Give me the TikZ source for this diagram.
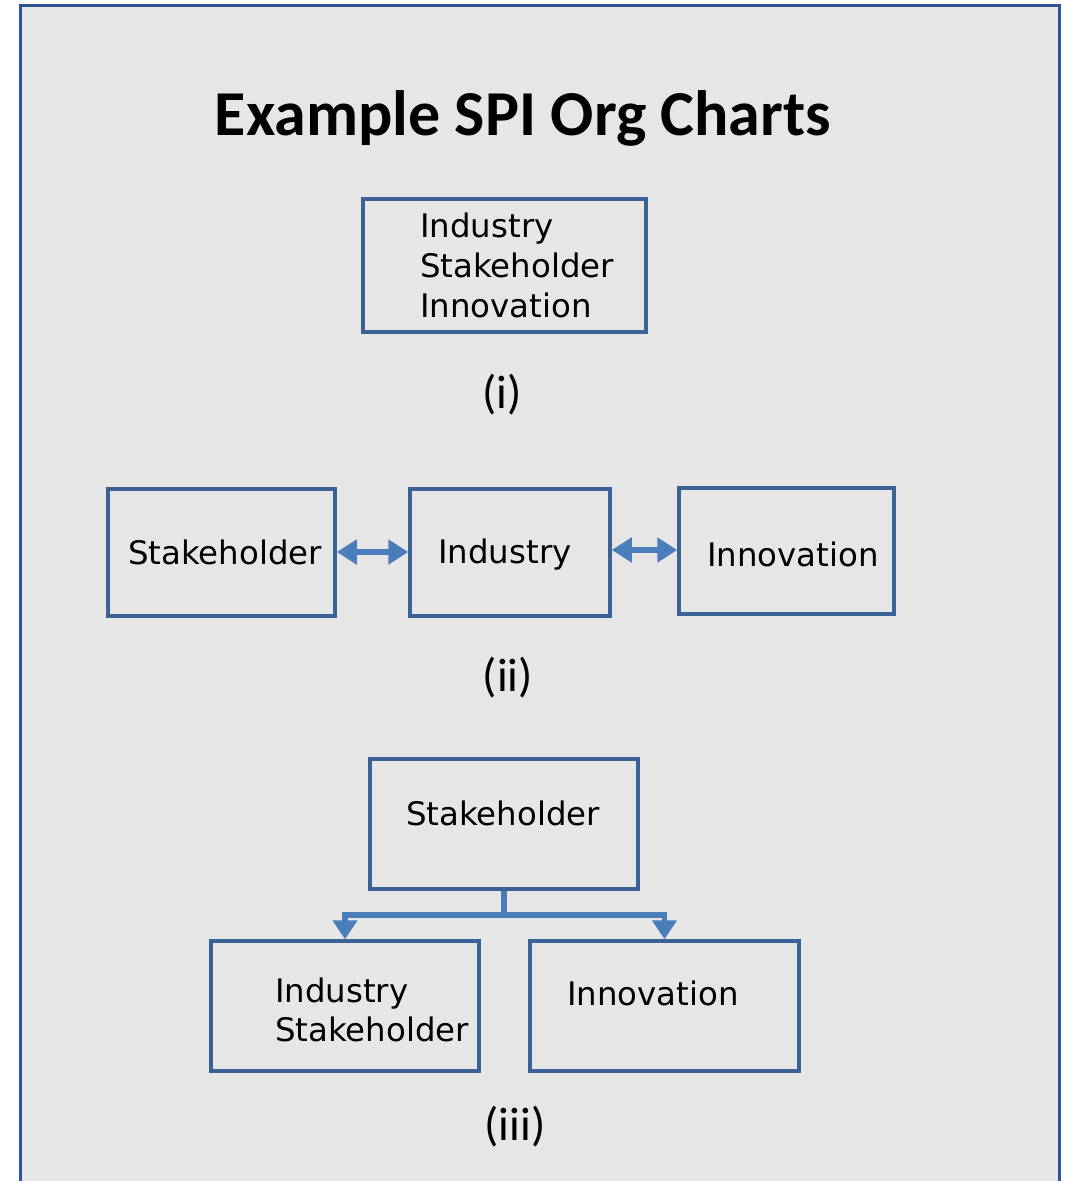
\documentclass[tikz,border=0pt]{standalone}
\usepackage{fontspec}
\setmainfont{DejaVu Sans}
\newfontfamily\calib{Carlito}
\usetikzlibrary{arrows.meta}
\definecolor{bgray}{HTML}{E6E6E6}
\definecolor{frameblue}{HTML}{2F5597}
\definecolor{boxblue}{HTML}{3B6296}
\definecolor{arrblue}{HTML}{4A7EBB}
\begin{document}
\begin{tikzpicture}[x=1pt,y=-1pt,
  box/.style={draw=boxblue,line width=3.5pt,fill=bgray,inner sep=0pt},
  lbl/.style={font=\fontsize{32.4}{40}\selectfont,anchor=base west,inner sep=0pt},
  caplabel/.style={font=\calib\fontsize{47}{55}\selectfont,anchor=base,inner sep=0pt},
  conn/.style={draw=arrblue,line width=5.5pt},
  tipend/.style={-{Triangle[width=24pt,length=19pt]}},
  tipboth/.style={{Triangle[width=24pt,length=20pt]}-{Triangle[width=24pt,length=20pt]}}
]
\useasboundingbox (0,0) rectangle (1071,1181);
\fill[white] (0,0) rectangle (1071,1181);
\draw[draw=frameblue,line width=3pt,fill=bgray] (20,5) rectangle (1059,1200);

\node[font=\calib\bfseries\fontsize{64}{72}\selectfont,anchor=base,inner sep=0pt] (title) at (523,135) {Example SPI Org Charts};

% (i)
\node[box,minimum width=283pt,minimum height=133pt] (b1) at (504.5,265.5) {};
\node[lbl] (t1a) at (420,237) {Industry};
\node[lbl] (t1b) at (420,277) {Stakeholder};
\node[lbl] (t1c) at (420,317) {Innovation};
\node[caplabel] (c1) at (502,408) {(i)};

% (ii)
\node[box,minimum width=227pt,minimum height=127pt] (s2) at (221.5,552.5) {};
\node[box,minimum width=200pt,minimum height=127pt] (i2) at (510,552.5) {};
\node[box,minimum width=215pt,minimum height=126pt] (n2) at (786.5,551) {};
\node[lbl] (ts2) at (128,564) {Stakeholder};
\node[lbl] (ti2) at (438,563) {Industry};
\node[lbl] (tn2) at (707,566) {Innovation};
\draw[conn,tipboth] (s2.east |- 0,552) -- (i2.west |- 0,552);
\draw[conn,tipboth] (i2.east |- 0,550) -- (n2.west |- 0,550);
\node[caplabel] (c2) at (508,691) {(ii)};

% (iii)
\node[box,minimum width=268pt,minimum height=130pt] (s3) at (504,824) {};
\node[box,minimum width=268pt,minimum height=130pt] (is3) at (345,1006) {};
\node[box,minimum width=269pt,minimum height=130pt] (n3) at (664.5,1006) {};
\node[lbl] (ts3) at (406,825) {Stakeholder};
\node[lbl] (ti3a) at (275,1002) {Industry};
\node[lbl] (ti3b) at (275,1041) {Stakeholder};
\node[lbl] (tn3) at (567,1005) {Innovation};
\coordinate (j) at (504,915);
\draw[conn] (s3.south) -- (j);
\draw[conn,tipend] (j) -| (is3.north);
\draw[conn,tipend] (j) -| (n3.north);
\node[caplabel] (c3) at (515,1140) {(iii)};
\end{tikzpicture}
\end{document}
